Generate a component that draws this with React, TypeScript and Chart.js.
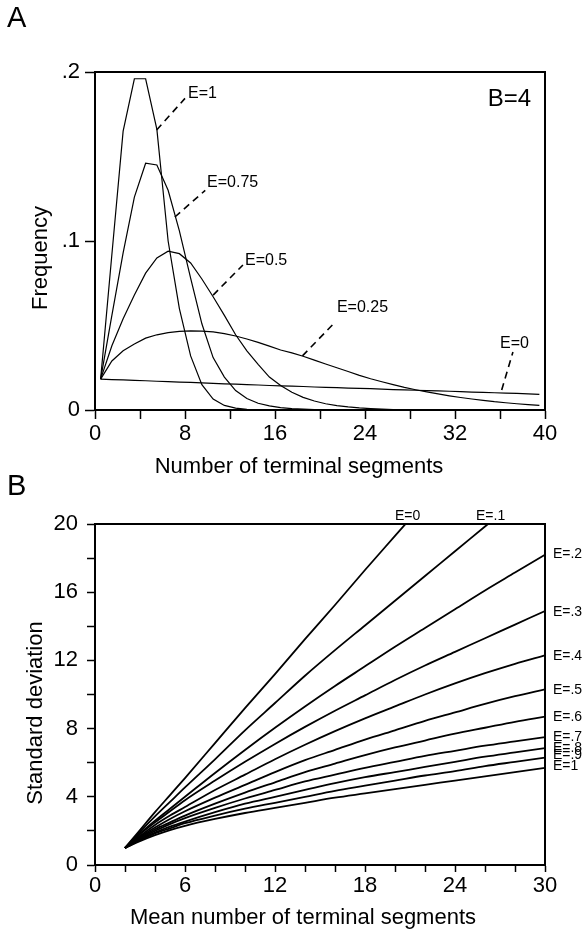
import React, { useEffect, useRef } from 'react';
import { Chart, registerables } from 'chart.js';

Chart.register(...registerables);

const FONT = '"Liberation Sans", Arial, Helvetica, sans-serif';

// ---------------- Panel A: frequency distributions (B=4) ----------------
const SEGMENTS = [
  0.5, 1.5, 2.5, 3.5, 4.5, 5.5, 6.5, 7.5, 8.5, 9.5,
  10.5, 11.5, 12.5, 13.5, 14.5, 15.5, 16.5, 17.5, 18.5, 19.5,
  20.5, 21.5, 22.5, 23.5, 24.5, 25.5, 26.5, 27.5, 28.5, 29.5,
  30.5, 31.5, 32.5, 33.5, 34.5, 35.5, 36.5, 37.5, 38.5, 39.5,
];
const FREQ_E1 = [
  0.0183, 0.092, 0.165, 0.196, 0.196, 0.166, 0.1, 0.06, 0.032, 0.015,
  0.0065, 0.0027, 0.0011, 0.0004, 0.0002, 0.0001, 0, 0, 0, 0,
  0, 0, 0, 0, 0, 0, 0, 0, 0, 0,
  0, 0, 0, 0, 0, 0, 0, 0, 0, 0,
];
const FREQ_E075 = [
  0.0183, 0.056, 0.093, 0.126, 0.146, 0.145, 0.13, 0.106, 0.078, 0.051,
  0.031, 0.0195, 0.0115, 0.0068, 0.004, 0.0024, 0.0014, 0.0008, 0.0005, 0.0003,
  0.0002, 0.0001, 0, 0, 0, 0, 0, 0, 0, 0,
  0, 0, 0, 0, 0, 0, 0, 0, 0, 0,
];
const FREQ_E05 = [
  0.0183, 0.038, 0.054, 0.068, 0.081, 0.09, 0.094, 0.0925, 0.087, 0.0775,
  0.067, 0.056, 0.0445, 0.035, 0.027, 0.0195, 0.0145, 0.0105, 0.0075, 0.0053,
  0.0037, 0.0026, 0.0018, 0.0012, 0.0008, 0.0005, 0.0003, 0.0002, 0.0001, 0.0001,
  0, 0, 0, 0, 0, 0, 0, 0, 0, 0,
];
const FREQ_E025 = [
  0.0183, 0.029, 0.035, 0.039, 0.0425, 0.0445, 0.0458, 0.0465, 0.0468, 0.0467,
  0.0462, 0.0452, 0.0438, 0.042, 0.04, 0.0378, 0.0355, 0.0338, 0.0318, 0.0295,
  0.0272, 0.025, 0.0228, 0.0205, 0.0185, 0.0167, 0.015, 0.0134, 0.012, 0.0107,
  0.0095, 0.0084, 0.0074, 0.0065, 0.0057, 0.0049, 0.0043, 0.0037, 0.0032, 0.0027,
];
const FREQ_E0 = [
  0.0183, 0.018, 0.0178, 0.0175, 0.0173, 0.017, 0.0168, 0.0165, 0.0163, 0.016,
  0.0158, 0.0155, 0.0153, 0.015, 0.0148, 0.0145, 0.0143, 0.0141, 0.0139, 0.0136,
  0.0134, 0.0132, 0.013, 0.0128, 0.0126, 0.0123, 0.0121, 0.0119, 0.0117, 0.0115,
  0.0113, 0.0111, 0.0109, 0.0106, 0.0104, 0.0102, 0.01, 0.0098, 0.0096, 0.0093,
];
const SERIES_A = [FREQ_E1, FREQ_E075, FREQ_E05, FREQ_E025, FREQ_E0];

const LABELS_A = ['E=1', 'E=0.75', 'E=0.5', 'E=0.25', 'E=0'];
const LABEL_A_X = [8.27, 9.96, 13.33, 21.5, 36.0];
const LABEL_A_Y = [0.1846, 0.132, 0.0858, 0.058, 0.0367];
const LEADER_A_X0 = [5.48, 7.1, 10.5, 18.44, 36.15];
const LEADER_A_Y0 = [0.1657, 0.1142, 0.068, 0.032, 0.0118];
const LEADER_A_X1 = [8.0, 9.8, 13.15, 21.1, 37.15];
const LEADER_A_Y1 = [0.1844, 0.13, 0.0858, 0.0503, 0.0343];

// ---------------- Panel B: standard deviation vs mean ----------------
const MEAN_SEGMENTS = [2, 3, 4, 5, 6, 8, 10, 12, 14, 16, 18, 20, 22, 24, 26, 28, 30];
const SD_E0 = [1, 2.05, 3.1, 4.1, 5.1, 7.15, 9.2, 11.2, 13.25, 15.25, 17.3, 19.3, 21.3, 23.3, 25.3, 27.3, 29.3];
const SD_E01 = [1, 1.95, 2.85, 3.7, 4.55, 6.2, 7.9, 9.5, 11.1, 12.6, 14.05, 15.5, 16.95, 18.4, 19.85, 21.3, 22.75];
const SD_E02 = [1, 1.85, 2.6, 3.3, 4.0, 5.4, 6.75, 8.05, 9.3, 10.5, 11.65, 12.8, 13.9, 15.0, 16.1, 17.15, 18.2];
const SD_E03 = [1, 1.8, 2.5, 3.15, 3.8, 4.95, 6.05, 7.1, 8.1, 9.05, 9.95, 10.85, 11.7, 12.5, 13.3, 14.1, 14.9];
const SD_E04 = [1, 1.7, 2.35, 2.9, 3.4, 4.4, 5.3, 6.2, 7.05, 7.85, 8.6, 9.3, 10.0, 10.65, 11.25, 11.8, 12.3];
const SD_E05 = [1, 1.65, 2.2, 2.7, 3.15, 3.95, 4.7, 5.45, 6.15, 6.75, 7.35, 7.9, 8.45, 8.95, 9.45, 9.9, 10.3];
const SD_E06 = [1, 1.6, 2.1, 2.5, 2.9, 3.6, 4.25, 4.85, 5.45, 5.95, 6.45, 6.9, 7.3, 7.7, 8.05, 8.4, 8.7];
const SD_E07 = [1, 1.55, 2.0, 2.4, 2.75, 3.35, 3.9, 4.4, 4.9, 5.3, 5.7, 6.05, 6.4, 6.7, 7.0, 7.25, 7.5];
const SD_E08 = [1, 1.5, 1.9, 2.25, 2.55, 3.1, 3.6, 4.0, 4.4, 4.8, 5.15, 5.45, 5.75, 6.05, 6.35, 6.6, 6.85];
const SD_E09 = [1, 1.45, 1.85, 2.15, 2.45, 2.9, 3.3, 3.65, 4.0, 4.35, 4.65, 4.95, 5.25, 5.5, 5.8, 6.05, 6.3];
const SD_E1 = [1, 1.4, 1.75, 2.05, 2.3, 2.7, 3.05, 3.35, 3.65, 3.95, 4.2, 4.45, 4.7, 4.95, 5.2, 5.45, 5.7];
const SERIES_B = [SD_E0, SD_E01, SD_E02, SD_E03, SD_E04, SD_E05, SD_E06, SD_E07, SD_E08, SD_E09, SD_E1];

const LABELS_B = ['E=0', 'E=.1', 'E=.2', 'E=.3', 'E=.4', 'E=.5', 'E=.6', 'E=.7', 'E=.8', 'E=.9', 'E=1'];
const LABEL_B_X = [20.0, 25.4, 30.53, 30.53, 30.53, 30.53, 30.53, 30.53, 30.53, 30.53, 30.53];
const LABEL_B_Y = [20.23, 20.23, 18.24, 14.84, 12.26, 10.26, 8.68, 7.5, 6.86, 6.45, 5.8];

const W = 583;
const H_A = 480;
const H_B = 461;
const TOP_B = 470;

function textStyle(ctx: CanvasRenderingContext2D, size: number) {
  ctx.font = `${size}px ${FONT}`;
  ctx.fillStyle = '#000';
}

const boxPlugin = {
  id: 'boxPlugin',
  afterDraw(chart: any) {
    const { ctx, chartArea } = chart;
    const { left, right, top, bottom } = chartArea;
    ctx.save();
    ctx.strokeStyle = '#000';
    ctx.lineWidth = 2;
    ctx.beginPath();
    ctx.moveTo(left - 1, top);
    ctx.lineTo(right, top);
    ctx.lineTo(right, bottom + 1);
    ctx.stroke();
    ctx.restore();
  },
};

const decorA = {
  id: 'decorA',
  afterDraw(chart: any) {
    const { ctx } = chart;
    const x = chart.scales.x;
    const y = chart.scales.y;
    ctx.save();
    ctx.strokeStyle = '#000';
    ctx.lineWidth = 1.6;
    ctx.setLineDash([7, 5]);
    for (let i = 0; i < LABELS_A.length; i++) {
      ctx.beginPath();
      ctx.moveTo(x.getPixelForValue(LEADER_A_X0[i]), y.getPixelForValue(LEADER_A_Y0[i]));
      ctx.lineTo(x.getPixelForValue(LEADER_A_X1[i]), y.getPixelForValue(LEADER_A_Y1[i]));
      ctx.stroke();
    }
    ctx.setLineDash([]);
    textStyle(ctx, 16);
    ctx.textAlign = 'left';
    ctx.textBaseline = 'alphabetic';
    for (let i = 0; i < LABELS_A.length; i++) {
      ctx.fillText(LABELS_A[i], x.getPixelForValue(LABEL_A_X[i]), y.getPixelForValue(LABEL_A_Y[i]));
    }
    textStyle(ctx, 24);
    ctx.textAlign = 'right';
    ctx.fillText('B=4', chart.chartArea.right - 14, chart.chartArea.top + 34);
    textStyle(ctx, 29);
    ctx.textAlign = 'left';
    ctx.fillText('A', 7, 27);
    textStyle(ctx, 22);
    ctx.textAlign = 'center';
    ctx.fillText('Number of terminal segments', 299, 473);
    ctx.save();
    ctx.translate(47, 258);
    ctx.rotate(-Math.PI / 2);
    ctx.textAlign = 'center';
    ctx.textBaseline = 'alphabetic';
    ctx.fillText('Frequency', 0, 0);
    ctx.restore();
    ctx.restore();
  },
};

const decorB = {
  id: 'decorB',
  afterDraw(chart: any) {
    const { ctx } = chart;
    const x = chart.scales.x;
    const y = chart.scales.y;
    ctx.save();
    textStyle(ctx, 14);
    ctx.textAlign = 'left';
    for (let i = 0; i < LABELS_B.length; i++) {
      ctx.textBaseline = i < 2 ? 'alphabetic' : 'middle';
      ctx.fillText(LABELS_B[i], x.getPixelForValue(LABEL_B_X[i]), y.getPixelForValue(LABEL_B_Y[i]));
    }
    textStyle(ctx, 29);
    ctx.textBaseline = 'alphabetic';
    ctx.fillText('B', 7, 495 - TOP_B);
    textStyle(ctx, 22);
    ctx.textAlign = 'center';
    ctx.fillText('Mean number of terminal segments', 303, 924 - TOP_B);
    ctx.save();
    ctx.translate(42, 713 - TOP_B);
    ctx.rotate(-Math.PI / 2);
    ctx.fillText('Standard deviation', 0, 0);
    ctx.restore();
    ctx.restore();
  },
};

function axisCommon(tickLength: number) {
  return {
    grid: { drawOnChartArea: false, drawTicks: true, tickLength, tickColor: '#000', tickWidth: 1.5, color: '#000' },
    border: { display: true, color: '#000', width: 2 },
  };
}

export default function App() {
  const refA = useRef<HTMLCanvasElement>(null);
  const refB = useRef<HTMLCanvasElement>(null);

  useEffect(() => {
    const chartA = new Chart(refA.current as HTMLCanvasElement, {
      type: 'line',
      data: {
        datasets: SERIES_A.map((vals) => ({
          data: SEGMENTS.map((s, i) => ({ x: s, y: vals[i] })),
          borderColor: '#000',
          borderWidth: 1.2,
          pointRadius: 0,
          tension: 0,
          fill: false,
        })),
      },
      options: {
        animation: false,
        responsive: false,
        events: [],
        layout: { padding: { top: 72, right: 38, left: 0, bottom: 0 } },
        plugins: { legend: { display: false }, tooltip: { enabled: false } },
        scales: {
          x: {
            type: 'linear',
            min: 0,
            max: 40,
            afterFit: (s: any) => { s.height = H_A - 410; },
            ticks: {
              stepSize: 4,
              autoSkip: false,
              maxRotation: 0,
              padding: 2,
              color: '#000',
              font: { family: FONT, size: 22 },
              callback: (v: any) => (Number(v) % 8 === 0 ? String(v) : ''),
            },
            ...axisCommon(9),
          },
          y: {
            type: 'linear',
            min: 0,
            max: 0.2,
            afterFit: (s: any) => { s.width = 95; },
            ticks: {
              stepSize: 0.1,
              padding: 5,
              color: '#000',
              font: { family: FONT, size: 22 },
              callback: (v: any) => (Number(v) === 0 ? '0' : '.' + Math.round(Number(v) * 10)),
            },
            ...axisCommon(10),
          },
        },
      } as any,
      plugins: [boxPlugin, decorA],
    });

    const chartB = new Chart(refB.current as HTMLCanvasElement, {
      type: 'line',
      data: {
        datasets: SERIES_B.map((vals) => ({
          data: MEAN_SEGMENTS.map((m, i) => ({ x: m, y: vals[i] })),
          borderColor: '#000',
          borderWidth: 1.8,
          pointRadius: 0,
          cubicInterpolationMode: 'monotone',
          fill: false,
        })),
      },
      options: {
        animation: false,
        responsive: false,
        events: [],
        layout: { padding: { top: 524 - TOP_B, right: 38, left: 0, bottom: 0 } },
        plugins: { legend: { display: false }, tooltip: { enabled: false } },
        scales: {
          x: {
            type: 'linear',
            min: 0,
            max: 30,
            afterFit: (s: any) => { s.height = 66; },
            ticks: {
              stepSize: 2,
              autoSkip: false,
              maxRotation: 0,
              padding: 1,
              color: '#000',
              font: { family: FONT, size: 22 },
              callback: (v: any) => (Number(v) % 6 === 0 ? String(v) : ''),
            },
            ...axisCommon(7),
          },
          y: {
            type: 'linear',
            min: 0,
            max: 20,
            afterFit: (s: any) => { s.width = 95; },
            ticks: {
              stepSize: 2,
              autoSkip: false,
              padding: 9,
              color: '#000',
              font: { family: FONT, size: 22 },
              callback: (v: any) => (Number(v) % 4 === 0 ? String(v) : ''),
            },
            ...axisCommon(8),
          },
        },
      } as any,
      plugins: [boxPlugin, decorB],
    });

    return () => {
      chartA.destroy();
      chartB.destroy();
    };
  }, []);

  return (
    <div style={{ position: 'absolute', left: 0, top: 0, width: W, height: 931, background: '#fff' }}>
      <canvas ref={refA} width={W} height={H_A} style={{ position: 'absolute', left: 0, top: 0, display: 'block' }} />
      <canvas ref={refB} width={W} height={H_B} style={{ position: 'absolute', left: 0, top: TOP_B, display: 'block' }} />
    </div>
  );
}
